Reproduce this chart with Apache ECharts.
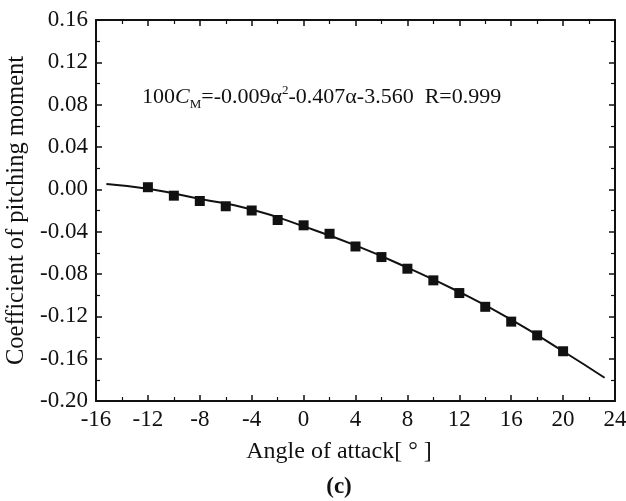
<!DOCTYPE html>
<html><head><meta charset="utf-8">
<script src="https://cdn.jsdelivr.net/npm/echarts@6/dist/echarts.min.js"></script>
<style>html,body{margin:0;padding:0;background:#fff}#c{width:626px;height:501px}</style>
</head><body><div id="c"></div>
<script>
var angles = [-12,-10,-8,-6,-4,-2,0,2,4,6,8,10,12,14,16,18,20];
var cmValues = [0.002,-0.006,-0.011,-0.016,-0.020,-0.029,-0.034,-0.042,-0.054,-0.064,-0.075,-0.086,-0.098,-0.111,-0.125,-0.138,-0.153];
var fitAngles = [-15.2,-12,-8,-4,0,4,8,12,16,20,23.2];
var fitValues = [0.005,0.0005,-0.009,-0.019,-0.035,-0.053,-0.074,-0.097,-0.123,-0.153,-0.178];
var xTicks = [-16,-12,-8,-4,0,4,8,12,16,20,24];
var yTicks = [-0.20,-0.16,-0.12,-0.08,-0.04,0.00,0.04,0.08,0.12,0.16];

var font = 'Liberation Serif';
var chart = echarts.init(document.getElementById('c'));
var axCommon = {
  axisLine:{show:true,onZero:false,lineStyle:{color:'#111',width:2}},
  axisTick:{show:true,inside:true,length:6,lineStyle:{color:'#111',width:1.5}},
  minorTick:{show:true,splitNumber:2,length:4,lineStyle:{color:'#111',width:1.2}},
  splitLine:{show:false}
};
chart.setOption({
  animation:false,
  backgroundColor:'#fff',
  grid:{left:96,right:11,top:20,bottom:100,containLabel:false,outerBoundsMode:'none'},
  xAxis:[
    Object.assign({type:'value',min:-16,max:24,interval:4,position:'bottom',
      axisLabel:{fontFamily:font,fontSize:23,color:'#111',margin:7,
        formatter:function(v){return xTicks.indexOf(v)>=0?String(v):'';}}},axCommon),
    Object.assign({type:'value',min:-16,max:24,interval:4,position:'top',axisLabel:{show:false}},axCommon)
  ],
  yAxis:[
    Object.assign({type:'value',min:-0.20,max:0.16,interval:0.04,position:'left',
      name:'Coefficient of pitching moment',nameLocation:'middle',nameGap:62,
      nameTextStyle:{fontFamily:font,fontSize:24.5,color:'#111'},
      axisLabel:{fontFamily:font,fontSize:23,color:'#111',margin:8,
        formatter:function(v){var r=Math.round(v*100)/100;return r.toFixed(2);}}},axCommon),
    Object.assign({type:'value',min:-0.20,max:0.16,interval:0.04,position:'right',axisLabel:{show:false}},axCommon)
  ],
  series:[
    {type:'line',data:fitAngles.map(function(a,i){return [a,fitValues[i]];}),smooth:true,
      showSymbol:false,lineStyle:{color:'#111',width:2},z:2},
    {type:'scatter',data:angles.map(function(a,i){return [a,cmValues[i]];}),
      symbol:'rect',symbolSize:10,itemStyle:{color:'#111',opacity:1},z:3}
  ],
  graphic:[
    {type:'text',left:142,top:84,style:{
      text:'{n|100}{c|C}{s|M}{n|=-0.009α}{p|2}{n|-0.407α-3.560  R=0.999}',
      rich:{
        n:{fontFamily:font,fontSize:22,fill:'#111'},
        c:{fontFamily:font,fontSize:22,fontStyle:'italic',fill:'#111'},
        s:{fontFamily:font,fontSize:13,fill:'#111',verticalAlign:'bottom',padding:[14,0,0,0]},
        p:{fontFamily:font,fontSize:13,fill:'#111',verticalAlign:'top',padding:[0,0,12,0]}
      }}},
    {type:'text',x:339,y:452,style:{text:'Angle of attack[ ° ]',fontFamily:font,fontSize:24,fill:'#111',align:'center',verticalAlign:'middle'}},
    {type:'text',x:339,y:487,style:{text:'(c)',fontFamily:font,fontSize:23,fontWeight:'bold',fill:'#111',align:'center',verticalAlign:'middle'}}
  ]
});
</script></body></html>
